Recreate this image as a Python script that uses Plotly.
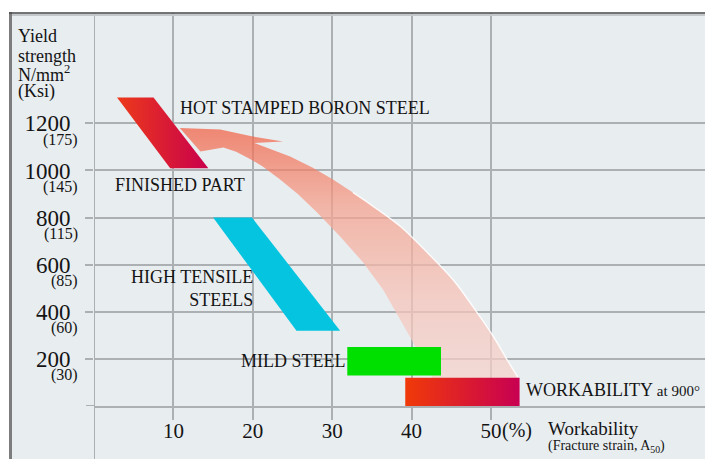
import plotly.graph_objects as go

# ---------------- data ----------------
x_ticks = [10, 20, 30, 40, 50]
x_tick_text = ["10", "20", "30", "40", "50"]
y_ticks = [200, 400, 600, 800, 1000, 1200]
y_tick_text = ["200", "400", "600", "800", "1000", "1200"]
ksi_text = ["(30)", "(60)", "(85)", "(115)", "(145)", "(175)"]

# hot stamped boron steel (finished part) band
boron_x = [2.9, 7.5, 14.4, 9.6]
boron_y = [1310, 1310, 1010, 1010]
# high tensile steels band
tensile_x = [15.0, 19.9, 31.0, 25.5]
tensile_y = [800, 800, 320, 320]
# mild steel block
mild_x = [31.9, 43.7]
mild_y = [130, 250]
# workability at 900°C block
work_x = [39.2, 53.6]
work_y = [0, 120]
# curved arrow outline (strain %, N/mm2)
arrow_x = [10.8, 15.9, 19.7, 22.2, 23.8, 20.2, 22.4, 24.7, 27.5, 30.1, 32.6, 35.2,
           38.6, 42.0, 45.2, 47.7, 50.3, 52.0, 53.4, 53.6, 43.0, 42.6, 41.5, 40.2,
           38.6, 36.4, 33.9, 31.0, 28.1, 25.7, 23.4, 21.2, 19.7, 17.9, 16.3, 13.4]
arrow_y = [1180, 1174, 1146, 1132, 1123, 1117, 1089, 1059, 1013, 962, 907, 847,
           762, 651, 537, 423, 295, 198, 121, 60, 60, 121, 185, 270,
           367, 495, 609, 720, 822, 899, 963, 1018, 1048, 1080, 1098, 1081]

# ---------------- layout constants ----------------
W, H = 705, 459
ML, MR, MT, MB = 94, 0, 13, 53
PW, PH = W - ML - MR, H - MT - MB
X_RANGE = [0, PW / 7.94]
Y_RANGE = [0, PH * 4.246]

SERIF = "Liberation Serif, Times New Roman, serif"
TXT = "#141414"
GRID = "#adb0b3"
BG = "#e8edf0"


def px_x(px):
    return (px - ML) / PW


def px_y(py):
    return (H - MB - py) / PH


fig = go.Figure()

# curved arrow (translucent, vertical gradient)
fig.add_trace(go.Scatter(
    x=arrow_x + arrow_x[:1], y=arrow_y + arrow_y[:1], mode="lines",
    line=dict(width=0, color="rgba(0,0,0,0)"), fill="toself",
    fillgradient=dict(type="vertical", colorscale=[
        [0.0, "rgba(246,213,206,0.72)"],
        [0.35, "rgba(246,195,184,0.72)"],
        [0.7, "rgba(245,160,140,0.72)"],
        [1.0, "rgba(241,95,66,0.72)"]]),
    hoverinfo="skip", showlegend=False))
# white highlight on the outer edge
fig.add_trace(go.Scatter(
    x=arrow_x[10:19], y=arrow_y[10:19], mode="lines",
    line=dict(width=1.5, color="rgba(255,255,255,0.85)", shape="spline"),
    hoverinfo="skip", showlegend=False))

# hot stamped boron steel band
fig.add_trace(go.Scatter(
    x=boron_x + boron_x[:1], y=boron_y + boron_y[:1], mode="lines",
    line=dict(width=0, color="rgba(0,0,0,0)"), fill="toself",
    fillgradient=dict(type="horizontal", colorscale=[[0, "#ec3a1a"], [1, "#c9004c"]]),
    hoverinfo="skip", showlegend=False))

# high tensile steels band
fig.add_trace(go.Scatter(
    x=tensile_x + tensile_x[:1], y=tensile_y + tensile_y[:1], mode="lines",
    line=dict(width=0, color="rgba(0,0,0,0)"), fill="toself", fillcolor="#05c4e0",
    hoverinfo="skip", showlegend=False))

# mild steel block
fig.add_trace(go.Scatter(
    x=[mild_x[0], mild_x[1], mild_x[1], mild_x[0], mild_x[0]],
    y=[mild_y[0], mild_y[0], mild_y[1], mild_y[1], mild_y[0]], mode="lines",
    line=dict(width=0, color="rgba(0,0,0,0)"), fill="toself", fillcolor="#00e000",
    hoverinfo="skip", showlegend=False))

# workability block
fig.add_trace(go.Scatter(
    x=[work_x[0], work_x[1], work_x[1], work_x[0], work_x[0]],
    y=[work_y[0], work_y[0], work_y[1], work_y[1], work_y[0]], mode="lines",
    line=dict(width=0, color="rgba(0,0,0,0)"), fill="toself",
    fillgradient=dict(type="horizontal", colorscale=[[0, "#f03a08"], [1, "#c80052"]]),
    hoverinfo="skip", showlegend=False))

shapes = [
    # light panel
    dict(type="rect", xref="paper", yref="paper", x0=px_x(10), x1=px_x(730),
         y0=px_y(480), y1=px_y(12.5), fillcolor=BG, line=dict(width=0), layer="below"),
    # frame: left and top
    dict(type="line", xref="paper", yref="paper", x0=px_x(10.5), x1=px_x(10.5),
         y0=px_y(480), y1=px_y(12), line=dict(color="#7d7d7d", width=3)),
    dict(type="line", xref="paper", yref="paper", x0=px_x(9), x1=px_x(730),
         y0=px_y(13), y1=px_y(13), line=dict(color="#4a4a4a", width=1.5)),
    dict(type="line", xref="paper", yref="paper", x0=px_x(12), x1=px_x(730),
         y0=px_y(15), y1=px_y(15), line=dict(color="#c4c7c9", width=2)),
    # y axis line running to the bottom edge
    dict(type="line", xref="x", yref="paper", x0=0, x1=0, y0=px_y(470), y1=1,
         line=dict(color=GRID, width=2), layer="below"),
    # x axis line stub to the left of the y axis
    dict(type="line", xref="paper", yref="y", x0=px_x(86), x1=0, y0=0, y1=0,
         line=dict(color=GRID, width=2), layer="below"),
]

annotations = []
# ksi sub-labels
for v, t in zip(y_ticks, ksi_text):
    annotations.append(dict(x=px_x(80), xref="paper", xanchor="right", y=v, yref="y",
                            yanchor="middle", yshift=-16.5, text=t, showarrow=False,
                            font=dict(family=SERIF, size=16, color=TXT)))
# y title lines
for txt, cy in zip(["Yield", "strength", "N/mm<sup>2</sup>", "(Ksi)"], [35.5, 55.5, 73.5, 92]):
    annotations.append(dict(x=px_x(16), xref="paper", xanchor="left", y=px_y(cy), yref="paper",
                            yanchor="middle", text=txt, showarrow=False,
                            font=dict(family=SERIF, size=18, color=TXT)))
# x title
annotations.append(dict(x=px_x(546), xref="paper", xanchor="left", y=px_y(428), yref="paper",
                        yanchor="middle", text="Workability", showarrow=False,
                        font=dict(family=SERIF, size=19, color=TXT)))
annotations.append(dict(x=px_x(546), xref="paper", xanchor="left", y=px_y(446), yref="paper",
                        yanchor="middle", text="(Fracture strain, A<sub>50</sub>)", showarrow=False,
                        font=dict(family=SERIF, size=14, color=TXT)))
annotations.append(dict(x=x_ticks[-1], xref="x", xanchor="left", xshift=9, y=px_y(430.5),
                        yref="paper", yanchor="middle", text="(%)", showarrow=False,
                        font=dict(family=SERIF, size=20, color=TXT)))
# in-chart labels
lab_font = dict(family=SERIF, size=18, color=TXT)
annotations += [
    dict(x=26.6, y=1266, text="HOT STAMPED BORON STEEL", showarrow=False, font=lab_font,
         xanchor="center", yanchor="middle"),
    dict(x=10.8, y=940, text="FINISHED PART", showarrow=False, font=lab_font,
         xanchor="center", yanchor="middle"),
    dict(x=20.3, y=497, text="HIGH TENSILE<br>STEELS", showarrow=False, font=lab_font,
         xanchor="right", yanchor="middle", align="right"),
    dict(x=31.9, y=189, text="MILD STEEL", showarrow=False, font=lab_font,
         xanchor="right", yanchor="middle"),
    dict(x=54.1, y=66, text="WORKABILITY <span style='font-size:15px'>at 900°</span>",
         showarrow=False, font=lab_font, xanchor="left", yanchor="middle"),
]

fig.update_layout(
    width=W, height=H,
    margin=dict(l=ML, r=MR, t=MT, b=MB, pad=0, autoexpand=False),
    paper_bgcolor="white", plot_bgcolor="rgba(0,0,0,0)",
    showlegend=False,
    shapes=shapes, annotations=annotations,
    xaxis=dict(range=X_RANGE, tickmode="array", tickvals=x_ticks, ticktext=x_tick_text,
               automargin=False,
               showgrid=True, gridcolor=GRID, gridwidth=2, zeroline=False,
               showline=True, linecolor=GRID, linewidth=2,
               ticks="outside", ticklen=12, tickwidth=2, tickcolor=GRID,
               ticklabelstandoff=-7,
               tickfont=dict(family=SERIF, size=21, color=TXT), fixedrange=True),
    yaxis=dict(range=Y_RANGE, tickmode="array", tickvals=y_ticks, ticktext=y_tick_text,
               automargin=False,
               showgrid=True, gridcolor=GRID, gridwidth=2, zeroline=False,
               showline=False, ticks="outside", ticklen=8, tickwidth=2, tickcolor=GRID,
               ticklabelstandoff=10,
               tickfont=dict(family=SERIF, size=23, color=TXT), fixedrange=True),
)

fig.write_html("out.html", config={"displayModeBar": False},
               post_script="document.body.style.margin='0';document.body.style.overflow='hidden';")
